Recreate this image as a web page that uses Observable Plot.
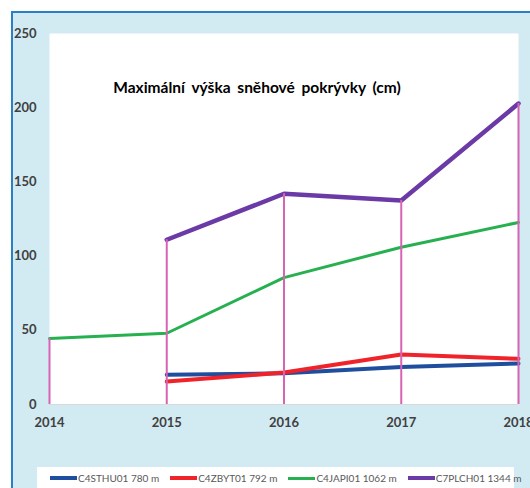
<!DOCTYPE html>
<html>
<head>
<meta charset="utf-8">
<script src="https://cdn.jsdelivr.net/npm/d3@7"></script>
<script src="https://cdn.jsdelivr.net/npm/@observablehq/plot@0.6"></script>
<style>
  html, body { margin: 0; padding: 0; background: #ffffff; }
  #wrap { position: relative; width: 530px; height: 488px; overflow: hidden; background: #ffffff; }
  #panel { position: absolute; left: 11px; top: 11px; right: 0; bottom: 0; background: #d2eaf2;
           border-left: 2.5px solid #2a80c6; border-top: 2.5px solid #2a80c6; }
  #chart { position: absolute; left: 0; top: 0; }
  #legend { position: absolute; left: 37px; top: 467px; width: 477px; height: 30px; background: #ffffff;
            display: flex; align-items: center; padding-left: 13px; box-sizing: border-box; gap: 11px;
            font-family: Lato, sans-serif; font-size: 10px; color: #595959; padding-bottom: 8px; }
  .item { display: flex; align-items: center; white-space: nowrap; }
  .swatch { display: inline-block; width: 27px; margin-right: 1px; }
  .title-text { word-spacing: 3px; }
</style>
</head>
<body>
<div id="wrap">
  <div id="panel"></div>
  <div id="chart"></div>
  <div id="legend"></div>
</div>
<script>
const years = [2014, 2015, 2016, 2017, 2018];
const seriesNames = ["C4STHU01 780 m", "C4ZBYT01 792 m", "C4JAPI01 1062 m", "C7PLCH01 1344 m"];
const C4STHU01 = [null, 20, 21, 25.3, 27.6];
const C4ZBYT01 = [null, 15.5, 21.5, 33.7, 30.8];
const C4JAPI01 = [44.5, 48, 85.5, 106, 122.7];
const C7PLCH01 = [null, 111, 142, 137.5, 202.8];
const yTicks = [0, 50, 100, 150, 200, 250];
const title = "Maximální výška sněhové pokrývky (cm)";

const colors = ["#1f4e9e", "#f0232b", "#27b04f", "#6b3aa6"];
const widths = [4, 4, 3, 4.5];
const allValues = [C4STHU01, C4ZBYT01, C4JAPI01, C7PLCH01];

const rows = [];
seriesNames.forEach((name, i) => {
  years.forEach((yr, j) => {
    const v = allValues[i][j];
    if (v != null) rows.push({series: name, year: yr, value: v});
  });
});
const drops = years.map((yr, j) => ({year: yr, value: d3.max(allValues, s => s[j])}));

const lineMarks = seriesNames.map((name, i) =>
  Plot.line(rows.filter(d => d.series === name), {
    x: "year", y: "value", stroke: colors[i], strokeWidth: widths[i], curve: "linear"
  })
);

const plot = Plot.plot({
  width: 530,
  height: 462,
  marginLeft: 49,
  marginRight: 12,
  marginTop: 33,
  marginBottom: 58,
  style: { background: "transparent", fontFamily: "Lato, sans-serif" },
  x: { type: "linear", domain: [2014, 2018], ticks: years, tickFormat: d3.format("d") },
  y: { domain: [0, 250], ticks: yTicks },
  marks: [
    Plot.frame({ fill: "#ffffff", stroke: null }),
    Plot.ruleY([0], { stroke: "#d9d9d9", strokeWidth: 1 }),
    ...lineMarks,
    Plot.ruleX(drops, { x: "year", y1: 0, y2: "value", stroke: "#d862b4", strokeWidth: 2 }),
    Plot.axisY({ ticks: yTicks, tickSize: 0, tickPadding: 13, label: null,
                 fontSize: 13, fontWeight: "bold", fill: "#404040" }),
    Plot.axisX({ ticks: years, tickSize: 0, tickPadding: 13, label: null, tickFormat: d3.format("d"),
                 fontSize: 13, fontWeight: "bold", fill: "#404040" }),
    Plot.text([title], { text: d => d, frameAnchor: "top", dx: -27, dy: 48,
                         fontSize: 15.5, fontWeight: "bold", fill: "#000000" })
  ]
});
document.getElementById("chart").appendChild(plot);
d3.select(plot).selectAll("text").filter(function() { return this.textContent === title; })
  .attr("class", "title-text");

const legend = document.getElementById("legend");
seriesNames.forEach((name, i) => {
  const item = document.createElement("div");
  item.className = "item";
  const sw = document.createElement("span");
  sw.className = "swatch";
  sw.style.height = widths[i] + "px";
  sw.style.background = colors[i];
  item.appendChild(sw);
  const t = document.createElement("span");
  t.textContent = name;
  item.appendChild(t);
  legend.appendChild(item);
});
</script>
</body>
</html>
